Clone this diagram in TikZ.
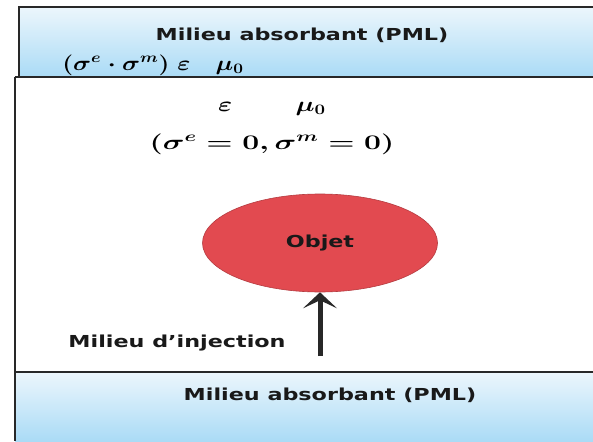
\documentclass[tikz,border=0pt]{standalone}
\usepackage{amsmath,bm}
\usepackage{graphicx}
\usepackage{fontspec}
\usetikzlibrary{arrows.meta,positioning,shapes.geometric}
\newfontfamily\etiquettefont[FakeStretch=1.35]{DejaVu Sans}
\definecolor{pmlHaut}{RGB}{236,246,252}
\definecolor{pmlBas}{RGB}{170,219,246}
\definecolor{bordGris}{RGB}{40,40,40}
\definecolor{objetRouge}{RGB}{226,74,80}
\newcommand{\etire}[2][1.3]{\scalebox{#1}[1]{#2}}

\begin{document}
\begin{tikzpicture}[x=1pt, y=-1pt,
    etiquette/.style={font=\etiquettefont\bfseries\fontsize{16.5}{19}\selectfont, inner sep=0pt, text=black!90},
    formule/.style={font=\fontsize{21}{25}\selectfont\boldmath, inner sep=0pt},
    bord/.style={draw=bordGris, line width=2pt},
    pml/.style={top color=pmlHaut, bottom color=pmlBas},
    objet/.style={ellipse, fill=objetRouge, draw=objetRouge!80!black, line width=0.6pt, minimum width=235pt, minimum height=98pt, inner sep=0pt},
    fleche/.style={-{Stealth[length=16pt,width=34pt,inset=8pt]}, line width=5pt, bordGris}
  ]
    \useasboundingbox (0,0) rectangle (593,441);
    \clip (0,0) rectangle (593,441);
    \fill[white] (0,0) rectangle (593,441);
    % couches PML
    \path[pml] (19,7) rectangle (600,77);
    \path[pml] (15,372) rectangle (600,441);
    \draw[bord] (19,7) rectangle (600,77);
    \draw[bord] (15,77) -- (19,77);
    \draw[bord] (15,77) -- (15,441);
    \draw[bord] (15,372) -- (600,372);
    % textes
    \node[etiquette] (pmlHautTitre) at (302,35) {Milieu absorbant (PML)};
    \node[formule] (pmlHautFormule) at (153,65) {\etire[1.2]{$\bm{(\sigma^{e}\cdot\sigma^{m})\;\varepsilon\quad\mu_{0}}$}};
    \node[formule] (milieuConst) at (272,109) {\etire{$\bm{\varepsilon}\qquad\;\bm{\mu_{0}}$}};
    \node[formule, below=35pt of milieuConst.center, anchor=center] (milieuSigma) {\etire[1.45]{$\bm{(\sigma^{e}=0,\sigma^{m}=0)}$}};
    \node[objet] (objet) at (320,243) {};
    \node[etiquette] at (objet.center) {Objet};
    \node[etiquette] (injection) at (177,343) {Milieu d’injection};
    \coordinate (source) at (320,356);
    \draw[fleche] (source) -- (objet.south);
    \node[etiquette] (pmlBasTitre) at (330,395) {Milieu absorbant (PML)};
  \end{tikzpicture}
\end{document}
